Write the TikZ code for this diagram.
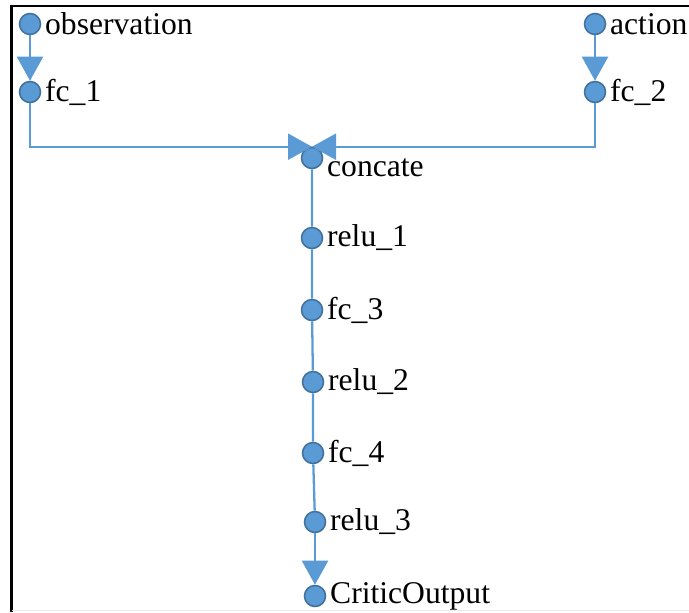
\documentclass[tikz,border=0pt]{standalone}
\usepackage{fontspec}
\setmainfont{Liberation Serif}
\newfontfamily\layerfont{Liberation Serif}
\usetikzlibrary{arrows.meta}
\definecolor{layerfill}{RGB}{91,155,213}
\definecolor{layerdraw}{RGB}{65,113,156}

\begin{document}
\begin{tikzpicture}[x=0.02cm, y=-0.02cm, > = {Triangle[length=0.48cm,width=0.52cm]},
    layer/.style = {circle, fill=layerfill, draw=layerdraw, line width=0.9pt, minimum size=0.42cm, inner sep=0pt, label distance=1.5pt},
    every label/.style = {inner sep=2pt, font=\layerfont\fontsize{18}{21}\selectfont},
    flow/.style = {draw=layerfill, line width=1.3pt}]
    \useasboundingbox (0,0) rectangle (689,612);

    % frame
    \draw[line width=1.7pt] (11.5,612) -- (11.5,6) -- (689,6);
    \draw[gray!15] (11.5,610) -- (689,610);

    % layers
    \node[layer, label=right:observation] (obs) at (30,24) {};
    \node[layer, label=right:fc\_1] (fc1) at (30,92) {};
    \node[layer, label=right:action] (act) at (595,24) {};
    \node[layer, label=right:fc\_2] (fc2) at (595,92) {};
    \node[layer, label={[yshift=-0.2cm]right:concate}] (cat) at (312,158) {};
    \node[layer, label=right:relu\_1] (relu1) at (312,238) {};
    \node[layer, label=right:fc\_3] (fc3) at (312,310) {};
    \node[layer, label=right:relu\_2] (relu2) at (313,382) {};
    \node[layer, label=right:fc\_4] (fc4) at (313,453) {};
    \node[layer, label=right:relu\_3] (relu3) at (315,522) {};
    \node[layer, label=right:CriticOutput] (out) at (315,596) {};

    % connections
    \draw[flow, ->] (obs) -- (fc1);
    \draw[flow, ->] (act) -- (fc2);
    \draw[flow, ->] (fc1) |- (cat.north);
    \draw[flow, ->] (fc2) |- (cat.north);
    \draw[flow] (cat) -- (relu1) -- (fc3) -- (relu2) -- (fc4) -- (relu3);
    \draw[flow, ->] (relu3) -- (out);

\end{tikzpicture}
\end{document}
